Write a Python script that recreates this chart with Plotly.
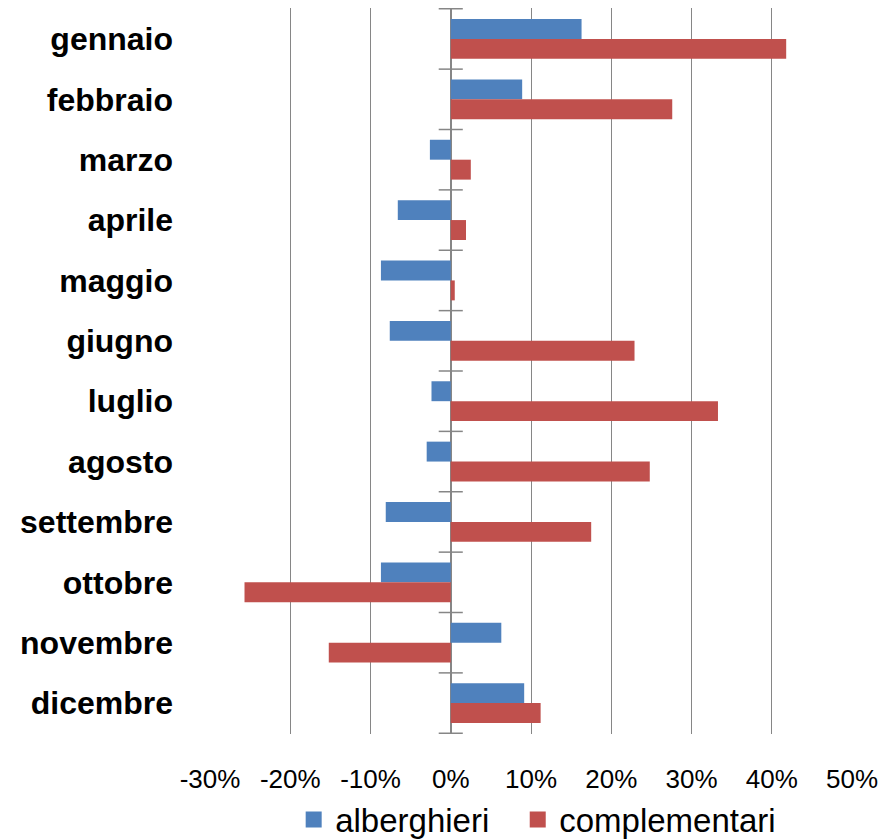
import plotly.graph_objects as go

mesi = ["gennaio", "febbraio", "marzo", "aprile", "maggio", "giugno",
        "luglio", "agosto", "settembre", "ottobre", "novembre", "dicembre"]
alberghieri = [16.3, 8.9, -2.6, -6.6, -8.7, -7.6, -2.4, -3.0, -8.1, -8.7, 6.3, 9.15]
complementari = [41.8, 27.6, 2.5, 1.9, 0.5, 22.9, 33.3, 24.8, 17.5, -25.7, -15.2, 11.2]
tick_vals = [-30, -20, -10, 0, 10, 20, 30, 40, 50]
tick_text = ["-30%", "-20%", "-10%", "0%", "10%", "20%", "30%", "40%", "50%"]

BLUE = "#4F81BD"
RED = "#C0504D"
GRID = "#868686"

fig = go.Figure()
fig.add_trace(go.Bar(y=mesi, x=alberghieri, orientation="h", name="alberghieri",
                     marker=dict(color=BLUE, line=dict(width=0)), showlegend=False))
fig.add_trace(go.Bar(y=mesi, x=complementari, orientation="h", name="complementari",
                     marker=dict(color=RED, line=dict(width=0)), showlegend=False))
# legend proxies with larger square symbols
fig.add_trace(go.Scatter(x=[None], y=[None], mode="markers", name="alberghieri",
                         marker=dict(symbol="square", size=21, color=BLUE),
                         legend="legend"))
fig.add_trace(go.Scatter(x=[None], y=[None], mode="markers", name="complementari",
                         marker=dict(symbol="square", size=21, color=RED),
                         legend="legend2"))

# crossing tick marks on the category axis at the zero line
for i in range(len(mesi) + 1):
    fig.add_shape(type="line", xref="x", yref="y", x0=-1.5, x1=1.5,
                  y0=i - 0.5, y1=i - 0.5, line=dict(color=GRID, width=1.5))

legend_common = dict(orientation="h", xanchor="left", y=-0.118, yanchor="middle",
                     font=dict(family="Liberation Sans", size=33), itemwidth=33,
                     bgcolor="rgba(0,0,0,0)")

fig.update_layout(
    width=885, height=832,
    margin=dict(l=202, r=41, t=0, b=106, autoexpand=False),
    paper_bgcolor="white", plot_bgcolor="white",
    barmode="group", bargap=0.34, bargroupgap=0,
    font=dict(family="Liberation Sans", color="black"),
    legend=dict(x=0.128, **legend_common),
    legend2=dict(x=0.477, **legend_common),
)
fig.update_xaxes(range=[-30, 50], tickvals=tick_vals, ticktext=tick_text,
                 showgrid=True, gridcolor=GRID, gridwidth=1,
                 zeroline=True, zerolinecolor=GRID, zerolinewidth=2,
                 showline=False, ticks="", tickfont=dict(size=26),
                 ticklabelstandoff=27, automargin=False)
fig.update_yaxes(autorange="reversed", categoryorder="array", categoryarray=mesi,
                 showgrid=False, zeroline=False, showline=False, ticks="",
                 tickfont=dict(family="Liberation Sans", size=32, weight="bold"),
                 ticklabelstandoff=36, automargin=False)

fig.write_html("out.html")
